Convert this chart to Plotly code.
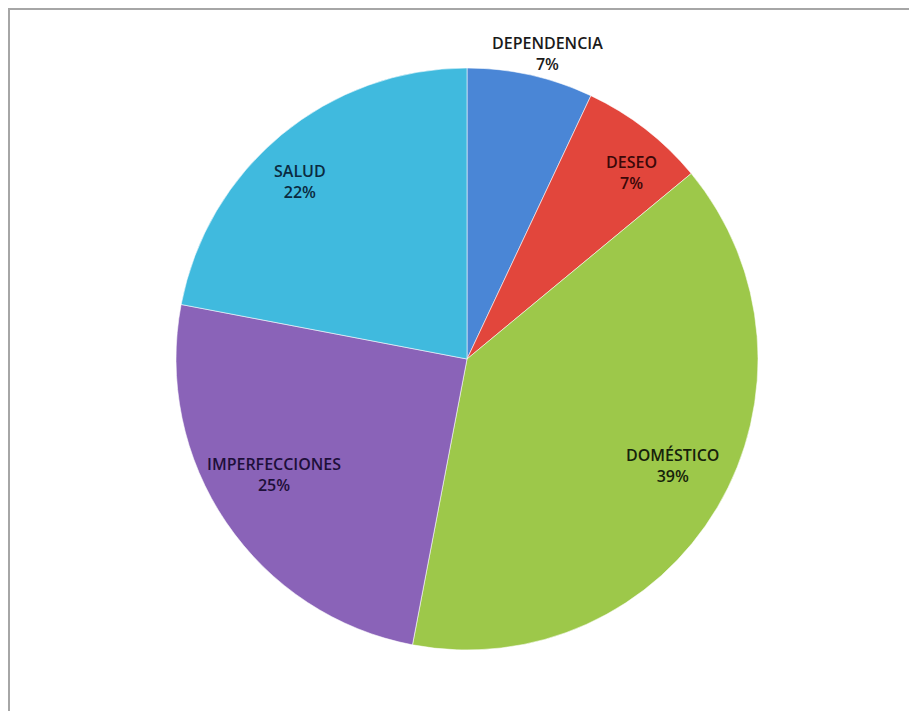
import math
import plotly.graph_objects as go

categories = ["DEPENDENCIA", "DESEO", "DOMÉSTICO", "IMPERFECCIONES", "SALUD"]
values = [7, 7, 39, 25, 22]
slice_colors = ["#4a86d6", "#e2463c", "#9dc84a", "#8a63b8", "#40bade"]
label_colors = ["#1a1a1a", "#3a0808", "#16220a", "#1e0f3a", "#0b2a40"]
label_inside = [False, True, True, True, True]
label_radius = [1.04, 0.92, 0.82, 0.8, 0.9]

W, H = 917, 711
# the page body adds an 8px offset, so figure coords are screen coords - 8
cx, cy, r = 459, 351, 291
k_inside = 0.88  # vertical flattening of inside label ring

fig = go.Figure()
fig.add_trace(go.Pie(
    labels=categories,
    values=values,
    sort=False,
    direction="clockwise",
    rotation=0,
    marker=dict(colors=slice_colors, line=dict(color="rgba(255,255,255,0.55)", width=1)),
    textinfo="none",
    showlegend=False,
    hoverinfo="label+percent",
    domain=dict(x=[(cx - r) / W, (cx + r) / W], y=[1 - (cy + r) / H, 1 - (cy - r) / H]),
))

# labels placed at each slice's mid-angle, computed from the values
total = sum(values)
annotations = []
cum = 0
for cat, v, col, inside, f in zip(categories, values, label_colors, label_inside, label_radius):
    mid = (cum + v / 2) / total * 2 * math.pi
    cum += v
    px = cx + f * r * math.sin(mid)
    if inside:
        py = cy - f * r * math.cos(mid) * k_inside
    else:
        px += 14
        py = cy - f * r * math.cos(mid) - 10
    pct = round(v / total * 100)
    annotations.append(dict(
        x=px / W, y=1 - py / H, xref="paper", yref="paper",
        text=f"{cat}<br>{pct}%", showarrow=False,
        font=dict(family="Open Sans, Lato, sans-serif", size=16, weight=600, color=col),
        align="center", xanchor="center", yanchor="middle",
    ))

fig.update_layout(
    width=W, height=H,
    margin=dict(l=0, r=0, t=0, b=0),
    paper_bgcolor="white",
    plot_bgcolor="white",
    annotations=annotations,
    shapes=[dict(type="rect", xref="paper", yref="paper",
                 x0=1 / W, x1=1.05, y0=-0.05, y1=1 - 1 / H,
                 line=dict(color="#a6a6a6", width=2), fillcolor="rgba(0,0,0,0)")],
)

fig.write_html("out.html")
